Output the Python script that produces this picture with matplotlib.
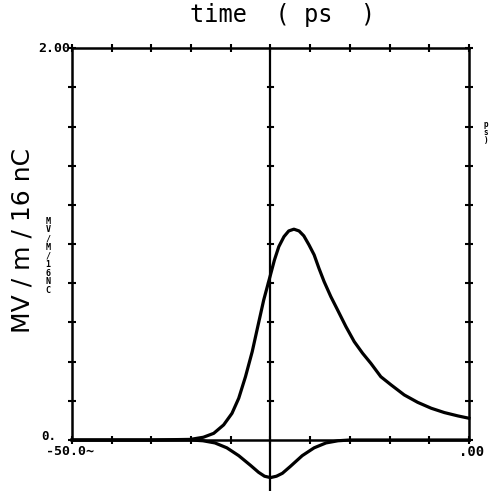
import matplotlib
matplotlib.use("Agg")
import matplotlib.pyplot as plt
import numpy as np

# main field pulse (MV/m/16nC) vs time (ps)
t_main = [-50, -30, -20.2, -16.9, -14.3, -11.8, -9.7, -8.0, -6.3, -4.6, -3.2, -1.7, 0.0,
          1.0, 2.1, 3.4, 4.6, 5.9, 7.2, 8.4, 9.7, 11.0, 12.2, 13.5, 15.2, 16.9, 19.0,
          21.1, 23.2, 25.3, 27.8, 30.4, 33.7, 37.1, 40.5, 43.8, 47.2, 50.0]
v_main = [0.0, 0.0, 0.003, 0.014, 0.034, 0.077, 0.136, 0.213, 0.323, 0.451, 0.579, 0.715,
          0.843, 0.919, 0.987, 1.038, 1.067, 1.076, 1.067, 1.042, 0.996, 0.945, 0.877,
          0.809, 0.732, 0.664, 0.579, 0.502, 0.443, 0.391, 0.323, 0.281, 0.230, 0.192,
          0.162, 0.140, 0.123, 0.111]

# negative dip around t = 0
t_neg = [-50, -25, -20, -17, -14, -11, -8, -5, -3, -1.5, 0, 1.5, 3, 5, 8, 11, 14, 17, 20, 50]
v_neg = [0.0, 0.0, 0.0, -0.004, -0.015, -0.04, -0.08, -0.13, -0.165, -0.185, -0.192,
         -0.185, -0.17, -0.135, -0.08, -0.04, -0.015, -0.004, 0.0, 0.0]

xticks = np.arange(-50, 51, 10)
yticks = np.arange(0, 2.01, 0.2)

fig = plt.figure(figsize=(4.9, 4.91), dpi=100)
ax = fig.add_axes([0.147, 0.1039, 0.810, 0.798])

ax.plot(t_main, v_main, color='black', lw=2.3, clip_on=False, solid_joinstyle='round')
ax.plot(t_neg, v_neg, color='black', lw=2.3, clip_on=False, solid_joinstyle='round')

# centre axis through t = 0, running off the bottom of the page
ax.plot([0, 0], [-0.27, 2.0], color='black', lw=1.6, clip_on=False)
for yt in yticks[1:-1]:
    ax.plot([-0.7, 0.7], [yt, yt], color='black', lw=1.5, clip_on=False)

ax.set_xlim(-50, 50)
ax.set_ylim(0, 2.0)
ax.set_xticks(xticks)
ax.set_yticks(yticks)
ax.tick_params(direction='inout', length=6, width=1.5, labelbottom=False, labelleft=False,
               top=True, right=True)
for s in ax.spines.values():
    s.set_linewidth(1.8)

mono = 'DejaVu Sans Mono'
ax.text(-50.4, 2.0, '2.00', ha='right', va='center', fontsize=9.5, fontweight='bold',
        family=mono)
ax.text(-54.0, 0.018, '0.', ha='right', va='center', fontsize=9, fontweight='bold',
        family=mono)
ax.text(-56.5, -0.058, '-50.0~', ha='left', va='center', fontsize=9.5, fontweight='bold',
        family=mono)
ax.text(47.6, -0.06, '.00', ha='left', va='center', fontsize=10, fontweight='bold',
        family=mono)

# tiny stacked unit label left of the y axis, and the stray one on the right
ax.text(-56.0, 0.94, 'M\nV\n/\nM\n/\n1\n6\nN\nC', ha='center', va='center', fontsize=6,
        fontweight='bold', family=mono, linespacing=0.95)
ax.text(54.3, 1.57, 'p\ns\n)', ha='center', va='center', fontsize=5.5,
        fontweight='bold', family=mono, linespacing=0.85)

fig.text(0.576, 0.955, 'time  ( ps  )', ha='center', va='baseline', fontsize=17,
         family=mono)
fig.text(0.045, 0.51, 'MV / m / 16 nC', ha='center', va='center', rotation=90,
         fontsize=18, family=['Liberation Sans Narrow', 'DejaVu Sans'])

fig.savefig('out.png', dpi=100)
